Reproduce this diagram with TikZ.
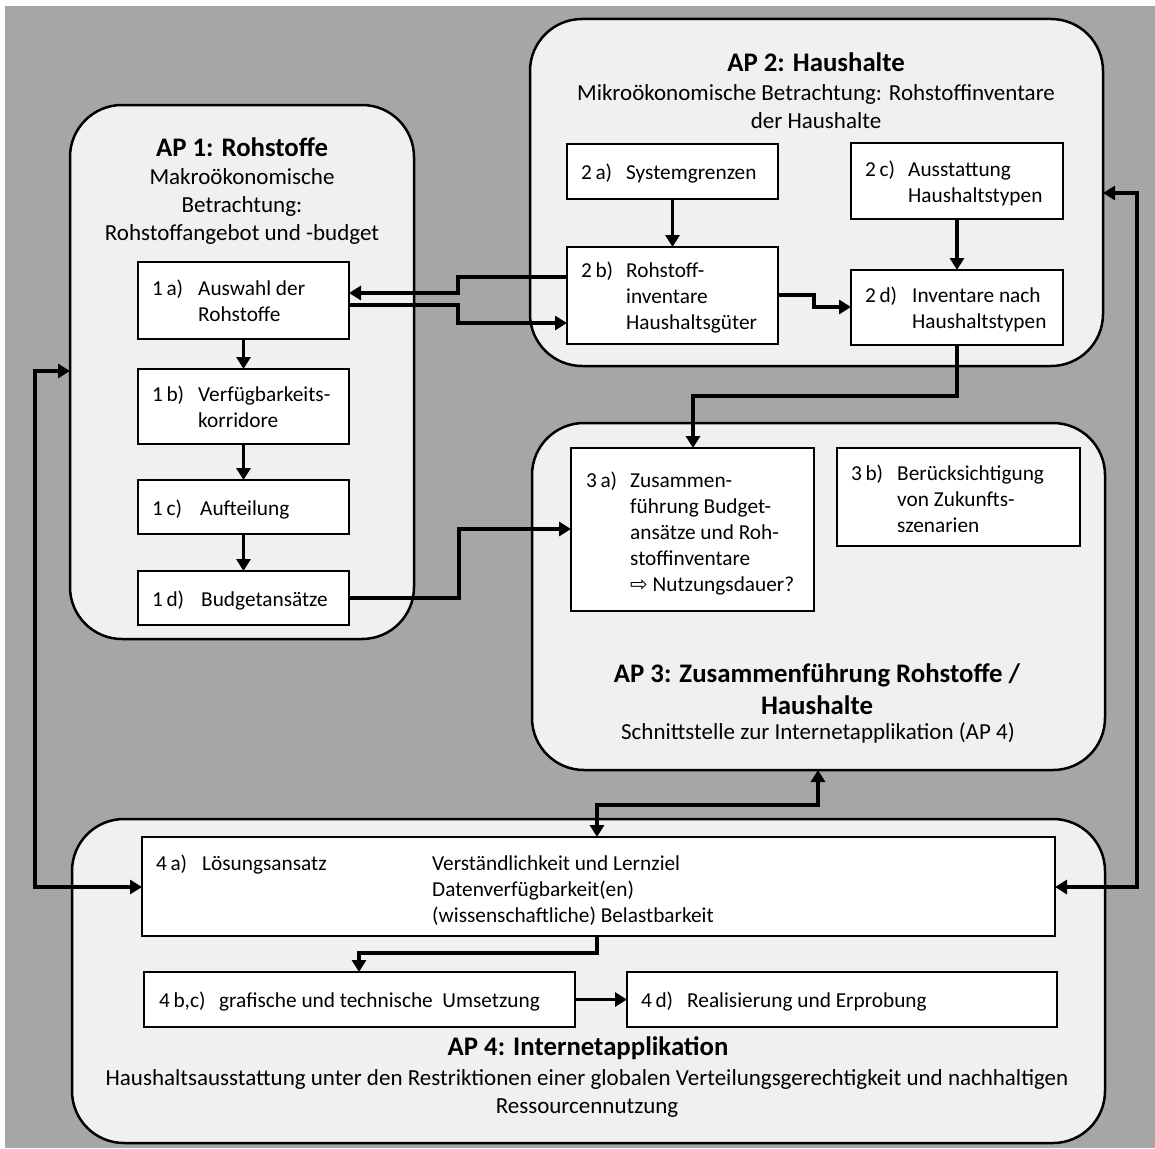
\documentclass[tikz,border=0pt]{standalone}
\usepackage{fontspec}
\setmainfont{Carlito}
\newfontfamily\symf{DejaVu Sans}
\usetikzlibrary{arrows.meta,calc}
\definecolor{bggray}{HTML}{A6A6A6}
\definecolor{apfill}{HTML}{F0F0F0}
\newcommand\stxt[3][46pt]{\begin{tabular}{@{}p{#1}@{}l@{}}#2 & #3\end{tabular}}
\begin{document}
\begin{tikzpicture}[x=1pt,y=-1pt,
 apbox/.style={draw, line width=2.5pt, fill=apfill, rounded corners=52pt, anchor=north west, inner sep=0pt, outer sep=0pt},
 stepbox/.style={draw, line width=2.3pt, fill=white, anchor=north west, inner sep=0pt, outer sep=0pt},
 txt/.style={anchor=west, inner sep=0pt, yshift=-3pt, font=\fontsize{21.3}{26}\selectfont},
 ttl/.style={inner sep=0pt, font=\fontsize{26.8}{32}\selectfont\bfseries, align=center},
 sub/.style={inner sep=0pt, font=\fontsize{23}{28}\selectfont, align=center},
 tip/.tip={Triangle[length=12pt,width=14pt]},
 conn/.style={line width=3.4pt, -tip},
 conn2/.style={line width=3.4pt, tip-tip},
]
\useasboundingbox (0,0) rectangle (1155,1148);
\fill[white] (0,0) rectangle (1155,1148);
\fill[bggray] (5,6) rectangle (1155,1148);

% work packages
\node[apbox, minimum width=344pt, minimum height=534pt] (AP1) at (70,105) {};
\node[apbox, minimum width=573pt, minimum height=347pt] (AP2) at (530,19) {};
\node[apbox, minimum width=573pt, minimum height=347pt] (AP3) at (532,423) {};
\node[apbox, minimum width=1033pt, minimum height=324pt] (AP4) at (72,819) {};

% titles
\node[ttl] (T1) at (242,147) {AP 1: Rohstoffe};
\node[sub] (S1) at (242,206) {Makroökonomische\\Betrachtung:\\Rohstoffangebot und -budget};
\node[ttl] (T2) at (816,62) {AP 2: Haushalte};
\node[sub] (S2) at (816,106.5) {Mikroökonomische Betrachtung: Rohstoffinventare\\der Haushalte};
\node[ttl] (T3) at (817,689) {AP 3: Zusammenführung Rohstoffe /\\Haushalte};
\node[sub] (S3) at (818,733) {Schnittstelle zur Internetapplikation (AP 4)};
\node[ttl] (T4) at (588,1048) {AP 4: Internetapplikation};
\node[sub] (S4) at (587,1093.5) {Haushaltsausstattung unter den Restriktionen einer globalen Verteilungsgerechtigkeit und nachhaltigen\\Ressourcennutzung};

% step boxes
\node[stepbox, minimum width=211pt, minimum height=77pt] (b1a) at (138,262) {};
\node[stepbox, minimum width=211pt, minimum height=75pt] (b1b) at (138,369) {};
\node[stepbox, minimum width=211pt, minimum height=54pt] (b1c) at (138,480) {};
\node[stepbox, minimum width=211pt, minimum height=54pt] (b1d) at (138,571) {};
\node[stepbox, minimum width=211pt, minimum height=55pt] (b2a) at (567,144) {};
\node[stepbox, minimum width=211pt, minimum height=97pt] (b2b) at (567,247) {};
\node[stepbox, minimum width=212pt, minimum height=76pt] (b2c) at (851,143) {};
\node[stepbox, minimum width=212pt, minimum height=75pt] (b2d) at (851,270) {};
\node[stepbox, minimum width=243pt, minimum height=163pt] (b3a) at (571,448) {};
\node[stepbox, minimum width=243pt, minimum height=98pt] (b3b) at (837,448) {};
\node[stepbox, minimum width=913pt, minimum height=99pt] (b4a) at (142,837) {};
\node[stepbox, minimum width=431pt, minimum height=55pt] (b4b) at (144,972) {};
\node[stepbox, minimum width=430pt, minimum height=55pt] (b4d) at (627,972) {};

% step texts
\node[txt] (t1a) at (152,300.5) {\stxt{1\,a)}{Auswahl der\\ & Rohstoffe}};
\node[txt] (t1b) at (152,406.5) {\stxt{1\,b)}{Verfügbarkeits-\\ & korridore}};
\node[txt] (t1c) at (152,507) {\stxt[48pt]{1\,c)}{Aufteilung}};
\node[txt] (t1d) at (152,598) {\stxt[49pt]{1\,d)}{Budgetansätze}};
\node[txt] (t2a) at (581,171.5) {\stxt[45pt]{2\,a)}{Systemgrenzen}};
\node[txt] (t2b) at (581,295.5) {\stxt[45pt]{2\,b)}{Rohstoff-\\ & inventare\\ & Haushaltsgüter}};
\node[txt] (t2c) at (865,181) {\stxt[43pt]{2\,c)}{Ausstattung\\ & Haushaltstypen}};
\node[txt] (t2d) at (865,307.5) {\stxt[47pt]{2\,d)}{Inventare nach\\ & Haushaltstypen}};
\node[txt] (t3a) at (586,531) {\stxt[44pt]{3\,a)}{Zusammen-\\ & führung Budget-\\ & ansätze und Roh-\\ & stoffinventare\\ & {\symf\fontsize{21}{26}\selectfont ⇨} Nutzungsdauer?}};
\node[txt] (t3b) at (851,498) {\stxt[46pt]{3\,b)}{Berücksichtigung\\ & von Zukunfts-\\ & szenarien}};
\node[txt] (t4a) at (156,862) {\stxt{4\,a)}{Lösungsansatz}};
\node[txt] (t4x) at (432,888) {\begin{tabular}{@{}l@{}}Verständlichkeit und Lernziel\\Datenverfügbarkeit(en)\\(wissenschaftliche) Belastbarkeit\end{tabular}};
\node[txt] (t4b) at (159,999.5) {\stxt[60pt]{4\,b,c)}{grafische und technische\ \ Umsetzung}};
\node[txt] (t4d) at (641,999.5) {\stxt[46pt]{4\,d)}{Realisierung und Erprobung}};

% bend points
\coordinate (ka) at (458,277); \coordinate (kb) at (458,293);
\coordinate (kc) at (458,305); \coordinate (kd) at (458,323);
\coordinate (ke) at (814,295); \coordinate (kf) at (814,307);
\coordinate (kg) at (957,396); \coordinate (kh) at (693,396);
\coordinate (ki) at (459,598); \coordinate (kj) at (459,529);
\coordinate (kk) at (597,805); \coordinate (kl) at (818,805);
\coordinate (km) at (35,371);  \coordinate (kn) at (35,887);
\coordinate (ko) at (1137,193); \coordinate (kp) at (1137,887);
\coordinate (kq) at (597,953); \coordinate (kr) at (359,953);

% connectors
\draw[conn] (b1a.south) -- (b1b.north);
\draw[conn] (b1b.south) -- (b1c.north);
\draw[conn] (b1c.south) -- (b1d.north);
\draw[conn] (b2a.south) -- (b2b.north);
\draw[conn] (b2c.south) -- (b2d.north);
\draw[conn] (b2b.west |- ka) -- (ka) -- (kb) -- (b1a.east |- kb);
\draw[conn] (b1a.east |- kc) -- (kc) -- (kd) -- (b2b.west |- kd);
\draw[conn] (b2b.east |- ke) -- (ke) -- (kf) -- (b2d.west |- kf);
\draw[conn] (b2d.south) -- (kg) -- (kh) -- (kh |- b3a.north);
\draw[conn] (b1d.east |- ki) -- (ki) -- (kj) -- (b3a.west |- kj);
\draw[conn2] (kk |- b4a.north) -- (kk) -- (kl) -- (kl |- AP3.south);
\draw[conn2] (AP1.west |- km) -- (km) -- (kn) -- (b4a.west |- kn);
\draw[conn2] (AP2.east |- ko) -- (ko) -- (kp) -- (b4a.east |- kp);
\draw[conn] (kq |- b4a.south) -- (kq) -- (kr) -- (kr |- b4b.north);
\draw[conn] (b4b.east) -- (b4d.west);
\end{tikzpicture}
\end{document}
